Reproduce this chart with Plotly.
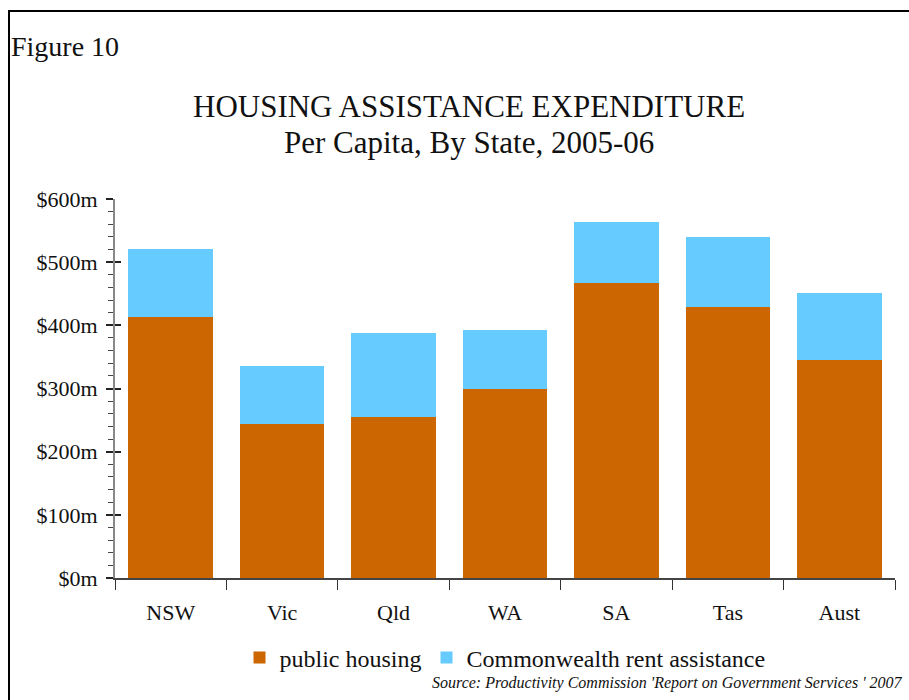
import plotly.graph_objects as go

states = ["NSW", "Vic", "Qld", "WA", "SA", "Tas", "Aust"]
public_housing = [413, 244, 255, 299, 467, 429, 345]
rent_assistance = [108, 92, 133, 94, 97, 111, 106]

ORANGE = "#CC6600"
BLUE = "#66CCFF"
FONT = "Liberation Serif"

fig = go.Figure()
fig.add_trace(go.Bar(x=states, y=public_housing, name="public housing",
                     marker=dict(color=ORANGE, line=dict(width=0))))
fig.add_trace(go.Bar(x=states, y=rent_assistance, name="Commonwealth rent assistance",
                     marker=dict(color=BLUE, line=dict(width=0))))
# invisible trace to hold an overlay axis for crossing major ticks
fig.add_trace(go.Scatter(x=[states[0]], y=[0], yaxis="y2", mode="markers",
                         marker=dict(opacity=0), showlegend=False, hoverinfo="skip"))

W, H = 909, 700
L, R, T, B = 115, 14, 199, 122

fig.update_layout(
    width=W, height=H,
    barmode="stack", bargap=0.24,
    paper_bgcolor="white", plot_bgcolor="white",
    margin=dict(l=L, r=R, t=T, b=B, autoexpand=False),
    font=dict(family=FONT, size=22, color="#111"),
    showlegend=True,
    legend=dict(orientation="h", x=0.5, xanchor="center", y=-0.211, yanchor="middle",
                font=dict(family=FONT, size=24, color="#111"),
                itemwidth=30, traceorder="normal", bgcolor="rgba(0,0,0,0)"),
    xaxis=dict(
        range=[-0.5, 6.5], showline=True, linecolor="#444", linewidth=1.5,
        ticks="outside", tickson="boundaries", ticklen=10, tickcolor="#333", tickwidth=1,
        ticklabelstandoff=14, tickfont=dict(family=FONT, size=22, color="#111"),
        showgrid=False, zeroline=False, fixedrange=True,
    ),
    yaxis=dict(
        range=[0, 600], dtick=100, tick0=0, tickprefix="$", ticksuffix="m",
        showline=True, linecolor="#888", linewidth=2,
        ticks="outside", ticklen=7, tickcolor="#222", tickwidth=1.5,
        minor=dict(dtick=20, ticks="outside", ticklen=5, tickcolor="#444", tickwidth=1),
        tickfont=dict(family=FONT, size=22, color="#111"), ticklabelstandoff=4,
        showgrid=False, zeroline=False,
    ),
    yaxis2=dict(
        range=[0, 600], dtick=100, tick0=0, overlaying="y", side="left",
        showline=False, ticks="inside", ticklen=6, tickcolor="#222", tickwidth=1.5,
        showticklabels=False, showgrid=False, zeroline=False,
    ),
)

pw = W - L - R
ph = H - T - B

def px_x(p):
    return (p - L) / pw

def px_y(p):
    return (H - B - p) / ph

# outer frame (cut off at the right and bottom)
fig.add_shape(type="rect", xref="paper", yref="paper",
              x0=px_x(9), x1=px_x(930), y0=px_y(720), y1=px_y(11),
              line=dict(color="black", width=2), fillcolor="rgba(0,0,0,0)", layer="above")

fig.add_annotation(text="Figure 10", xref="paper", yref="paper",
                   x=px_x(9), y=px_y(46), xanchor="left", yanchor="middle",
                   showarrow=False, font=dict(family=FONT, size=28, color="#111"))
fig.add_annotation(text="HOUSING ASSISTANCE EXPENDITURE", xref="paper", yref="paper",
                   x=px_x(469), y=px_y(107), xanchor="center", yanchor="middle",
                   showarrow=False, font=dict(family=FONT, size=31, color="#111"))
fig.add_annotation(text="Per Capita, By State, 2005-06", xref="paper", yref="paper",
                   x=px_x(469), y=px_y(143), xanchor="center", yanchor="middle",
                   showarrow=False, font=dict(family=FONT, size=31, color="#111"))
fig.add_annotation(text="<i>Source: Productivity Commission 'Report on Government Services ' 2007</i>",
                   xref="paper", yref="paper",
                   x=px_x(905), y=px_y(683), xanchor="right", yanchor="middle",
                   showarrow=False, font=dict(family=FONT, size=16, color="#111"))

fig.write_html("out.html", config={"displayModeBar": False},
               post_script="document.body.style.margin='0';document.body.style.overflow='hidden';")
